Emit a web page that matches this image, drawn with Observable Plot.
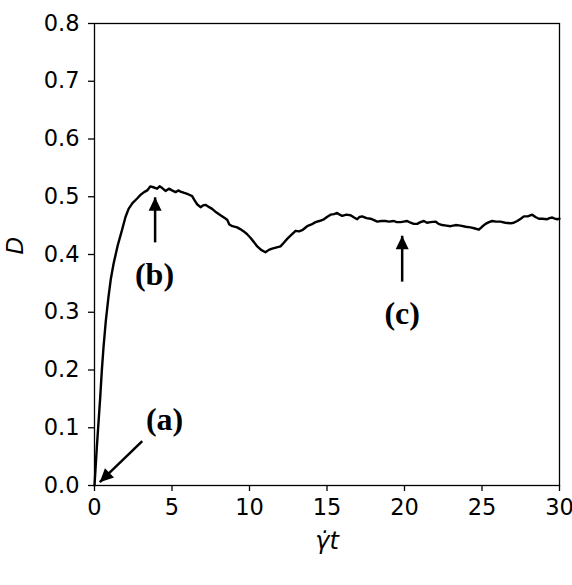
<!DOCTYPE html>
<html><head><meta charset="utf-8">
<script src="https://cdn.jsdelivr.net/npm/d3@7"></script>
<script src="https://cdn.jsdelivr.net/npm/@observablehq/plot@0.6"></script>
<style>body{margin:0;background:#fff}</style>
</head><body><div id="chart"></div>
<script>
const strain = [0,0.08,0.15,0.26,0.37,0.47,0.58,0.73,0.9,1.05,1.23,1.5,1.76,2.0,2.2,2.45,2.75,3.0,3.2,3.4,3.61,3.85,4.04,4.2,4.37,4.58,4.8,5.0,5.23,5.4,5.55,5.75,5.98,6.15,6.3,6.45,6.62,6.84,7.0,7.16,7.4,7.59,7.85,8.13,8.35,8.56,8.7,8.9,9.2,9.4,9.63,9.85,10.06,10.3,10.5,10.75,11.03,11.25,11.46,11.7,12.0,12.2,12.43,12.7,12.97,13.2,13.4,13.72,14.0,14.26,14.5,14.8,15.0,15.23,15.45,15.66,15.82,15.98,16.25,16.52,16.75,16.95,17.1,17.27,17.55,17.81,18.0,18.24,18.5,18.77,19.0,19.31,19.5,19.74,19.95,20.17,20.39,20.6,20.82,21.03,21.25,21.45,21.68,22.0,22.2,22.43,22.7,22.97,23.3,23.61,23.95,24.26,24.55,24.8,25.0,25.23,25.45,25.66,25.9,26.19,26.5,26.84,27.05,27.27,27.5,27.7,27.95,28.24,28.45,28.67,28.9,29.2,29.35,29.53,29.7,29.85,30.0];
const dValues = [0,0.035,0.066,0.11,0.153,0.198,0.239,0.285,0.326,0.357,0.384,0.416,0.441,0.465,0.479,0.489,0.497,0.504,0.508,0.511,0.518,0.516,0.514,0.518,0.515,0.510,0.514,0.511,0.508,0.511,0.509,0.507,0.505,0.503,0.501,0.494,0.487,0.482,0.485,0.486,0.482,0.479,0.473,0.468,0.464,0.460,0.452,0.449,0.447,0.444,0.440,0.435,0.429,0.421,0.414,0.408,0.404,0.408,0.410,0.412,0.414,0.420,0.427,0.434,0.441,0.440,0.442,0.449,0.452,0.456,0.458,0.461,0.465,0.469,0.470,0.472,0.469,0.467,0.469,0.468,0.464,0.461,0.465,0.466,0.463,0.462,0.460,0.457,0.458,0.458,0.457,0.458,0.456,0.456,0.457,0.458,0.455,0.453,0.453,0.456,0.458,0.455,0.456,0.457,0.453,0.451,0.450,0.449,0.451,0.450,0.448,0.447,0.445,0.443,0.448,0.453,0.456,0.458,0.457,0.457,0.455,0.454,0.455,0.458,0.462,0.466,0.466,0.469,0.465,0.462,0.462,0.461,0.463,0.464,0.462,0.461,0.462];

const xTicks = [0,5,10,15,20,25,30];
const yTicks = [0,0.1,0.2,0.3,0.4,0.5,0.6,0.7,0.8];
const xLabel = "\u03B3\u0307t";
const yLabel = "D";

const annotText = ["(a)","(b)","(c)"];
const annotX = [4.52,3.87,19.85];
const annotY = [0.114,0.365,0.298];

const arrowTailX = [3.08,3.91,19.85];
const arrowTailY = [0.077,0.421,0.353];
const arrowTipX = [0.34,3.91,19.85];
const arrowTipY = [0.0057,0.499,0.4325];
const arrowAngle = [226,0,0];

const series = strain.map((x,i)=>({x, d: dValues[i]}));
const annots = annotText.map((t,i)=>({t, x: annotX[i], y: annotY[i]}));
const arrows = arrowTailX.map((x,i)=>({x1:x, y1:arrowTailY[i], x2:arrowTipX[i], y2:arrowTipY[i], a:arrowAngle[i]}));

const headSymbol = {draw(ctx){ ctx.moveTo(0,0); ctx.lineTo(-6.5,13.5); ctx.lineTo(6.5,13.5); ctx.closePath(); }};

const chart = Plot.plot({
  width: 572, height: 585,
  marginLeft: 94, marginRight: 13, marginTop: 23, marginBottom: 100,
  style: {fontFamily: "DejaVu Sans", fontSize: "22px", color: "black", background: "white"},
  x: {domain: [0,30]},
  y: {domain: [0,0.8]},
  marks: [
    Plot.axisX({ticks: xTicks, tickSize: 6, tickPadding: 8, label: null, fontSize: 22.5, strokeWidth: 1.3}),
    Plot.axisY({ticks: yTicks, tickSize: 6, tickPadding: 9, label: null, fontSize: 22.5, tickFormat: d3.format(".1f"), strokeWidth: 1.3}),
    Plot.frame({stroke: "black", strokeWidth: 1.3}),
    Plot.line(series, {x: "x", y: "d", stroke: "black", strokeWidth: 2.4}),
    Plot.link(arrows, {x1: "x1", y1: "y1", x2: "x2", y2: "y2", stroke: "black", strokeWidth: 2.5}),
    Plot.dot(arrows, {x: "x2", y: "y2", symbol: headSymbol, rotate: "a", fill: "black", stroke: "none"}),
    Plot.text(annots, {x: "x", y: "y", text: "t", fontFamily: "Liberation Serif", fontWeight: "bold", fontSize: 32, fill: "black"}),
    Plot.text([yLabel], {frameAnchor: "left", dx: -79, rotate: -90, text: d=>d, fontStyle: "italic", fontSize: 23, fill: "black"}),
    Plot.text([xLabel], {frameAnchor: "bottom", dy: 63, text: d=>d, fontStyle: "italic", fontSize: 24, fill: "black"})
  ]
});
document.getElementById("chart").appendChild(chart);
</script>
</body></html>
